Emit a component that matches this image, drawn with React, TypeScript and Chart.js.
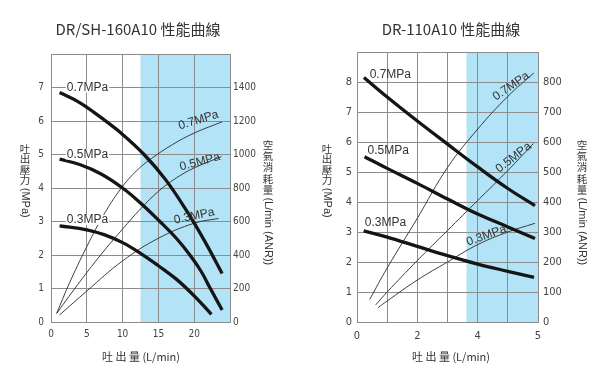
import React, { useEffect, useRef } from "react";
import { Chart, registerables } from "chart.js";
Chart.register(...registerables);

// ---------- Left chart: DR/SH-160A10 ----------
const leftTitle = "DR/SH-160A10 性能曲線";
const leftXTicks = [0, 5, 10, 15, 20, 25];
const leftYTicks = [0, 1, 2, 3, 4, 5, 6, 7, 8];
const leftY1Ticks = [0, 200, 400, 600, 800, 1000, 1200, 1400, 1600];
const leftBand = [12.5, 25];
const pressureNames = ["0.7MPa", "0.5MPa", "0.3MPa"];

// discharge pressure (MPa) vs flow (L/min)
const leftP07x = [1.2, 4, 7, 10, 13, 16, 19, 21.5, 23.9];
const leftP07y = [6.85, 6.55, 6.1, 5.6, 5.0, 4.25, 3.3, 2.4, 1.45];
const leftP05x = [1.2, 4, 7, 10, 12.5, 15.2, 17.5, 19.4, 21, 22.2, 23.9];
const leftP05y = [4.86, 4.7, 4.42, 4.0, 3.55, 3.0, 2.5, 2.0, 1.5, 1.02, 0.36];
const leftP03x = [1.2, 5, 7.5, 10, 12.5, 15, 17.5, 20, 22.4];
const leftP03y = [2.87, 2.75, 2.6, 2.37, 2.05, 1.68, 1.28, 0.78, 0.23];
// air consumption (L/min ANR) vs flow
const leftC07x = [0.8, 2.5, 5, 7.5, 10, 12, 14, 17, 20, 23.9];
const leftC07y = [52, 225, 450, 650, 810, 905, 975, 1060, 1128, 1195];
const leftC05x = [0.8, 2.5, 5, 7.5, 10, 12.5, 15, 17.5, 20, 23.8];
const leftC05y = [52, 152, 295, 430, 555, 675, 780, 860, 920, 987];
const leftC03x = [1.2, 5, 10, 15, 20, 23.4];
const leftC03y = [42, 185, 365, 500, 590, 618];

// ---------- Right chart: DR-110A10 ----------
const rightTitle = "DR-110A10 性能曲線";
const rightXTickLabels = ["0", "", "2", "", "4", "", "5"];
const rightYTicks = [0, 1, 2, 3, 4, 5, 6, 7, 8, 9];
const rightY1Ticks = [0, 100, 200, 300, 400, 500, 600, 700, 800, 900];
const rightBand = [3.63, 6];

const rightP07x = [0.23, 1, 2, 3, 4, 5, 5.9];
const rightP07y = [8.15, 7.5, 6.7, 5.93, 5.17, 4.45, 3.88];
const rightP05x = [0.25, 1, 2, 3, 4, 5, 5.9];
const rightP05y = [5.51, 5.12, 4.62, 4.1, 3.6, 3.17, 2.78];
const rightP03x = [0.22, 1, 2, 3, 4, 5, 5.87];
const rightP03y = [3.04, 2.83, 2.52, 2.21, 1.93, 1.69, 1.49];
const rightC07x = [0.42, 1, 2, 3, 4, 5, 5.86];
const rightC07y = [75, 180, 346, 515, 643, 752, 830];
const rightC05x = [0.62, 1, 2, 3, 4, 5, 5.85];
const rightC05y = [57, 100, 205, 305, 405, 505, 595];
const rightC03x = [0.7, 1, 2, 3, 4, 5, 5.9];
const rightC03y = [48, 70, 140, 200, 258, 300, 329];

// ---------- styles ----------
const BAND = "#b3e3f7";
const GRID = "#8c8c8c";
const TICK_COLOR = "#444";
const TEXT = "#333";
const TICK_FONT = "'Liberation Sans Narrow', 'DejaVu Sans Condensed', 'Liberation Sans', sans-serif";
const LABEL_FONT = "'Liberation Sans', Arial, sans-serif";
const CJK_FONT = "'Noto Sans CJK TC', 'Noto Sans CJK JP', sans-serif";

const pts = (xs: number[], ys: number[]) => xs.map((x, i) => ({ x, y: ys[i] }));

function thick(data: { x: number; y: number }[]) {
  return {
    data, yAxisID: "y", borderColor: "#151515", borderWidth: 3.3,
    pointRadius: 0, fill: false, tension: 0.4, borderCapStyle: "butt" as const,
  };
}
function thin(data: { x: number; y: number }[]) {
  return {
    data, yAxisID: "y1", borderColor: "#2a2a2a", borderWidth: 0.9,
    pointRadius: 0, fill: false, tension: 0.4,
  };
}

type Spec = {
  title: string; titleX: number;
  band: number[];
  xMax: number; xStep: number; xLabel: (v: number) => string;
  yMax: number; y1Max: number; y1Step: number;
  leftW: number; rightW: number; top: number; xH: number;
  tickSize: number; yPad: number; y1Pad: number; xPad: number;
  datasets: any[];
  thickLabels: { text: string; x: number; y: number; bg: boolean }[];
  thinLabels: { text: string; x: number; y: number; a: number }[];
  yTitle: { x: number; y0: number; step: number; cjk: string; latin: string };
  y1Title: { x: number; y0: number; step: number; cjk: string; latin: string };
  xTitle: { x: number; y: number; text: string };
};

function vtext(ctx: CanvasRenderingContext2D, t: Spec["yTitle"]) {
  ctx.save();
  ctx.fillStyle = TEXT;
  ctx.font = `10.5px ${CJK_FONT}`;
  ctx.textAlign = "center";
  ctx.textBaseline = "middle";
  const chars = Array.from(t.cjk);
  chars.forEach((c, i) => ctx.fillText(c, t.x, t.y0 + i * t.step));
  const y = t.y0 + (chars.length - 1) * t.step + t.step / 2 + 2;
  ctx.translate(t.x, y);
  ctx.rotate(Math.PI / 2);
  ctx.font = `11px ${LABEL_FONT}`;
  ctx.textAlign = "left";
  ctx.fillText(t.latin, 0, 0);
  ctx.restore();
}

function makeChart(canvas: HTMLCanvasElement, s: Spec) {
  const bandPlugin = {
    id: "band",
    beforeDraw(chart: any) {
      const { ctx, chartArea, scales } = chart;
      const x0 = scales.x.getPixelForValue(s.band[0]);
      const x1 = scales.x.getPixelForValue(s.band[1]);
      ctx.save();
      ctx.fillStyle = "#fff";
      ctx.fillRect(0, 0, chart.width, chart.height);
      ctx.fillStyle = BAND;
      ctx.fillRect(x0, chartArea.top, x1 - x0, chartArea.bottom - chartArea.top);
      ctx.restore();
    },
  };
  const textPlugin = {
    id: "texts",
    afterDatasetsDraw(chart: any) {
      const { ctx, scales } = chart;
      ctx.save();
      // title
      ctx.fillStyle = TEXT;
      ctx.font = `15px ${CJK_FONT}`;
      ctx.textAlign = "center";
      ctx.textBaseline = "middle";
      ctx.fillText(s.title, s.titleX, 29);
      // curve labels on pressure curves
      ctx.font = `12px ${LABEL_FONT}`;
      ctx.textAlign = "left";
      s.thickLabels.forEach((l) => {
        const px = scales.x.getPixelForValue(l.x);
        const py = scales.y.getPixelForValue(l.y);
        if (l.bg) {
          const w = ctx.measureText(l.text).width;
          ctx.fillStyle = "#fff";
          ctx.fillRect(px - 1, py - 5, w + 2, 10);
        }
        ctx.fillStyle = TEXT;
        ctx.fillText(l.text, px, py);
      });
      // curve labels on consumption curves
      ctx.textAlign = "center";
      s.thinLabels.forEach((l) => {
        const px = scales.x.getPixelForValue(l.x);
        const py = scales.y1.getPixelForValue(l.y);
        ctx.save();
        ctx.translate(px, py);
        ctx.rotate((l.a * Math.PI) / 180);
        ctx.fillStyle = TEXT;
        ctx.fillText(l.text, 0, 0);
        ctx.restore();
      });
      // axis titles
      vtext(ctx, s.yTitle);
      vtext(ctx, s.y1Title);
      ctx.fillStyle = TEXT;
      ctx.textAlign = "center";
      ctx.textBaseline = "middle";
      ctx.font = `11px ${CJK_FONT}`;
      ctx.fillText(s.xTitle.text, s.xTitle.x, s.xTitle.y);
      ctx.restore();
    },
  };
  const tickFont = { family: TICK_FONT, size: s.tickSize };
  return new Chart(canvas, {
    type: "line",
    data: { datasets: s.datasets },
    plugins: [bandPlugin, textPlugin],
    options: {
      responsive: false,
      animation: false,
      events: [],
      layout: { padding: { top: s.top, left: 0, right: 0, bottom: 0 } },
      plugins: { legend: { display: false }, tooltip: { enabled: false }, title: { display: false } },
      scales: {
        x: {
          type: "linear", min: 0, max: s.xMax,
          ticks: { stepSize: s.xStep, color: TICK_COLOR, font: tickFont, padding: s.xPad, maxRotation: 0, autoSkip: false, callback: (v: any) => s.xLabel(Number(v)) },
          grid: { color: GRID, lineWidth: 1, drawTicks: false },
          border: { display: true, color: GRID },
          afterFit: (sc: any) => { sc.height = s.xH; },
        },
        y: {
          type: "linear", position: "left", min: 0, max: s.yMax,
          ticks: { stepSize: 1, color: TICK_COLOR, font: tickFont, padding: s.yPad, autoSkip: false, callback: (v: any) => (Number(v) === s.yMax ? "" : String(v)) },
          grid: { color: GRID, lineWidth: 1, drawTicks: false },
          border: { display: true, color: GRID },
          afterFit: (sc: any) => { sc.width = s.leftW; },
        },
        y1: {
          type: "linear", position: "right", min: 0, max: s.y1Max,
          ticks: { stepSize: s.y1Step, color: TICK_COLOR, font: tickFont, padding: s.y1Pad, autoSkip: false, callback: (v: any) => (Number(v) === s.y1Max ? "" : String(v)) },
          grid: { display: false, drawTicks: false },
          border: { display: true, color: GRID },
          afterFit: (sc: any) => { sc.width = s.rightW; },
        },
      },
    } as any,
  });
}

const leftSpec: Spec = {
  title: leftTitle, titleX: 138, band: leftBand,
  xMax: leftXTicks[leftXTicks.length - 1], xStep: 5,
  xLabel: (v) => (v === leftXTicks[leftXTicks.length - 1] ? "" : String(v)),
  yMax: leftYTicks[leftYTicks.length - 1], y1Max: leftY1Ticks[leftY1Ticks.length - 1], y1Step: 200,
  leftW: 51, rightW: 70, top: 54, xH: 52,
  tickSize: 10, yPad: 7, y1Pad: 3, xPad: 6,
  datasets: [
    thick(pts(leftP07x, leftP07y)), thick(pts(leftP05x, leftP05y)), thick(pts(leftP03x, leftP03y)),
    thin(pts(leftC07x, leftC07y)), thin(pts(leftC05x, leftC05y)), thin(pts(leftC03x, leftC03y)),
  ],
  thickLabels: [
    { text: pressureNames[0], x: 2.2, y: 7, bg: true },
    { text: pressureNames[1], x: 2.2, y: 5, bg: true },
    { text: pressureNames[2], x: 2.2, y: 3.05, bg: true },
  ],
  thinLabels: [
    { text: pressureNames[0], x: 20.6, y: 1205, a: -17 },
    { text: pressureNames[1], x: 20.8, y: 955, a: -15 },
    { text: pressureNames[2], x: 20.0, y: 632, a: -12 },
  ],
  yTitle: { x: 25, y0: 149, step: 10.5, cjk: "吐出壓力", latin: "(MPa)" },
  y1Title: { x: 268, y0: 145, step: 11.2, cjk: "空氣消耗量", latin: "(L/min (ANR))" },
  xTitle: { x: 141, y: 357, text: "吐 出 量 (L/min)" },
};

const rightSpec: Spec = {
  title: rightTitle, titleX: 151, band: rightBand,
  xMax: rightXTickLabels.length - 1, xStep: 1,
  xLabel: (v) => rightXTickLabels[v] ?? "",
  yMax: rightYTicks[rightYTicks.length - 1], y1Max: rightY1Ticks[rightY1Ticks.length - 1], y1Step: 100,
  leftW: 57, rightW: 62, top: 52, xH: 52,
  tickSize: 11, yPad: 5, y1Pad: 5, xPad: 8,
  datasets: [
    thick(pts(rightP07x, rightP07y)), thick(pts(rightP05x, rightP05y)), thick(pts(rightP03x, rightP03y)),
    thin(pts(rightC07x, rightC07y)), thin(pts(rightC05x, rightC05y)), thin(pts(rightC03x, rightC03y)),
  ],
  thickLabels: [
    { text: pressureNames[0], x: 0.42, y: 8.26, bg: false },
    { text: pressureNames[1], x: 0.35, y: 5.71, bg: false },
    { text: pressureNames[2], x: 0.26, y: 3.32, bg: false },
  ],
  thinLabels: [
    { text: pressureNames[0], x: 5.11, y: 786, a: -35 },
    { text: pressureNames[1], x: 5.19, y: 548, a: -38 },
    { text: pressureNames[2], x: 4.29, y: 288, a: -20 },
  ],
  yTitle: { x: 27, y0: 149, step: 10.5, cjk: "吐出壓力", latin: "(MPa)" },
  y1Title: { x: 282, y0: 145, step: 11.2, cjk: "空氣消耗量", latin: "(L/min (ANR))" },
  xTitle: { x: 151, y: 357, text: "吐 出 量 (L/min)" },
};

function Panel({ spec, left }: { spec: Spec; left: number }) {
  const ref = useRef<HTMLCanvasElement | null>(null);
  useEffect(() => {
    if (!ref.current) return;
    const chart = makeChart(ref.current, spec);
    return () => chart.destroy();
  }, [spec]);
  return (
    <div style={{ position: "absolute", left, top: 0, width: 300, height: 374 }}>
      <canvas ref={ref} width={300} height={374} style={{ display: "block", width: 300, height: 374 }} />
    </div>
  );
}

export default function App() {
  return (
    <div style={{ position: "fixed", left: 0, top: 0, width: 600, height: 374, background: "#fff", overflow: "hidden" }}>
      <Panel spec={leftSpec} left={0} />
      <Panel spec={rightSpec} left={300} />
    </div>
  );
}
